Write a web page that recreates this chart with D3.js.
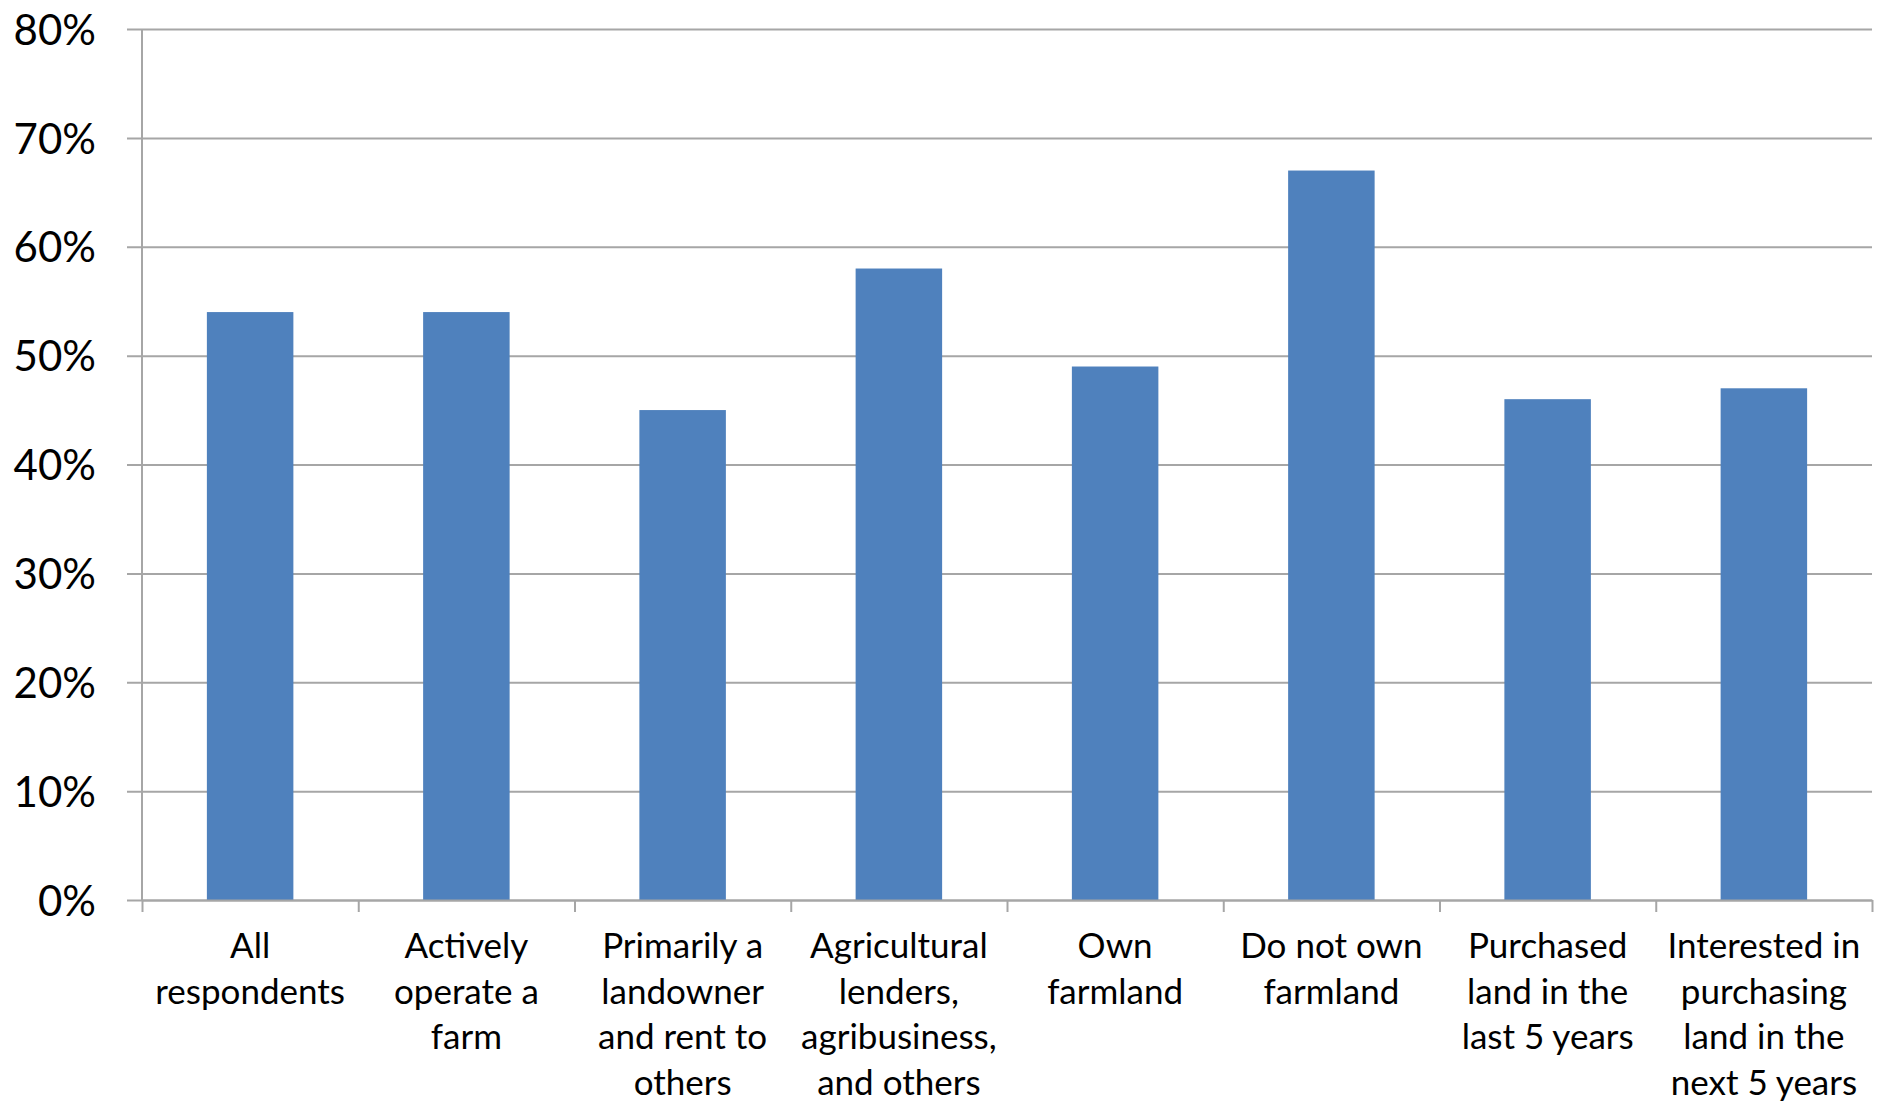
<!DOCTYPE html>
<html>
<head>
<meta charset="utf-8">
<script src="https://cdn.jsdelivr.net/npm/d3@7"></script>
<style>
  body { margin: 0; background: #fff; }
  text { font-family: Lato, "Open Sans", sans-serif; fill: #000; }
</style>
</head>
<body>
<div id="chart"></div>
<script>
var svgWidth = 1879;
var svgHeight = 1101;

var margin = { top: 29, right: 7, bottom: 201, left: 142 };
var width = svgWidth - margin.left - margin.right;
var height = svgHeight - margin.top - margin.bottom;

// data
var categories = ["all", "operate", "landowner", "lenders", "own", "notown", "purchased", "interested"];
var categoryLabels = [
  ["All", "respondents"],
  ["Actively", "operate a", "farm"],
  ["Primarily a", "landowner", "and rent to", "others"],
  ["Agricultural", "lenders,", "agribusiness,", "and others"],
  ["Own", "farmland"],
  ["Do not own", "farmland"],
  ["Purchased", "land in the", "last 5 years"],
  ["Interested in", "purchasing", "land in the", "next 5 years"]
];
var values = [0.54, 0.54, 0.45, 0.58, 0.49, 0.67, 0.46, 0.47];
var yTicks = [0, 0.1, 0.2, 0.3, 0.4, 0.5, 0.6, 0.7, 0.8];

var svg = d3.select("#chart").append("svg")
  .attr("width", svgWidth)
  .attr("height", svgHeight);

var chartGroup = svg.append("g")
  .attr("transform", `translate(${margin.left}, ${margin.top})`);

var xBand = d3.scaleBand()
  .domain(categories)
  .range([0, width])
  .paddingInner(0.6)
  .paddingOuter(0.3);

var xEdges = d3.scaleLinear()
  .domain([0, categories.length])
  .range([0, width]);

var yLinearScale = d3.scaleLinear()
  .domain([0, 0.8])
  .range([height, 0]);

// gridlines + y ticks
var leftAxis = d3.axisLeft(yLinearScale)
  .tickValues(yTicks)
  .tickSize(-(width + 15))
  .tickFormat(d3.format(".0%"));

var yAxis = chartGroup.append("g")
  .attr("transform", "translate(-15, 0)")
  .call(leftAxis);

yAxis.select(".domain").remove();
yAxis.selectAll(".tick line")
  .attr("stroke", "#a6a6a6")
  .attr("stroke-width", 2);
yAxis.selectAll(".tick text")
  .attr("x", -31)
  .attr("dy", "0.36em")
  .attr("font-size", "42px");

// vertical axis line
chartGroup.append("line")
  .attr("x1", 0).attr("x2", 0)
  .attr("y1", 0).attr("y2", height)
  .attr("stroke", "#a6a6a6")
  .attr("stroke-width", 2);

// bars
chartGroup.selectAll("rect.bar")
  .data(values)
  .enter()
  .append("rect")
  .attr("class", "bar")
  .attr("x", (d, i) => xBand(categories[i]))
  .attr("width", xBand.bandwidth())
  .attr("y", d => yLinearScale(d))
  .attr("height", d => height - yLinearScale(d))
  .attr("fill", "#4f81bd");

// x axis with boundary ticks
var bottomAxis = d3.axisBottom(xEdges)
  .tickValues(d3.range(categories.length + 1))
  .tickSize(12)
  .tickSizeOuter(0)
  .tickFormat("");

var xAxis = chartGroup.append("g")
  .attr("transform", `translate(0, ${height})`)
  .call(bottomAxis);

xAxis.select(".domain")
  .attr("stroke", "#a6a6a6")
  .attr("stroke-width", 2);
xAxis.selectAll(".tick line")
  .attr("stroke", "#a6a6a6")
  .attr("stroke-width", 2);

// category labels
var labelGroup = chartGroup.selectAll("text.cat")
  .data(categoryLabels)
  .enter()
  .append("text")
  .attr("class", "cat")
  .attr("text-anchor", "middle")
  .attr("font-size", "35px")
  .attr("transform", (d, i) => `translate(${xBand(categories[i]) + xBand.bandwidth() / 2}, ${height + 58})`);

labelGroup.selectAll("tspan")
  .data(d => d)
  .enter()
  .append("tspan")
  .attr("x", 0)
  .attr("y", (d, j) => j * 45.6)
  .text(d => d);
</script>
</body>
</html>
